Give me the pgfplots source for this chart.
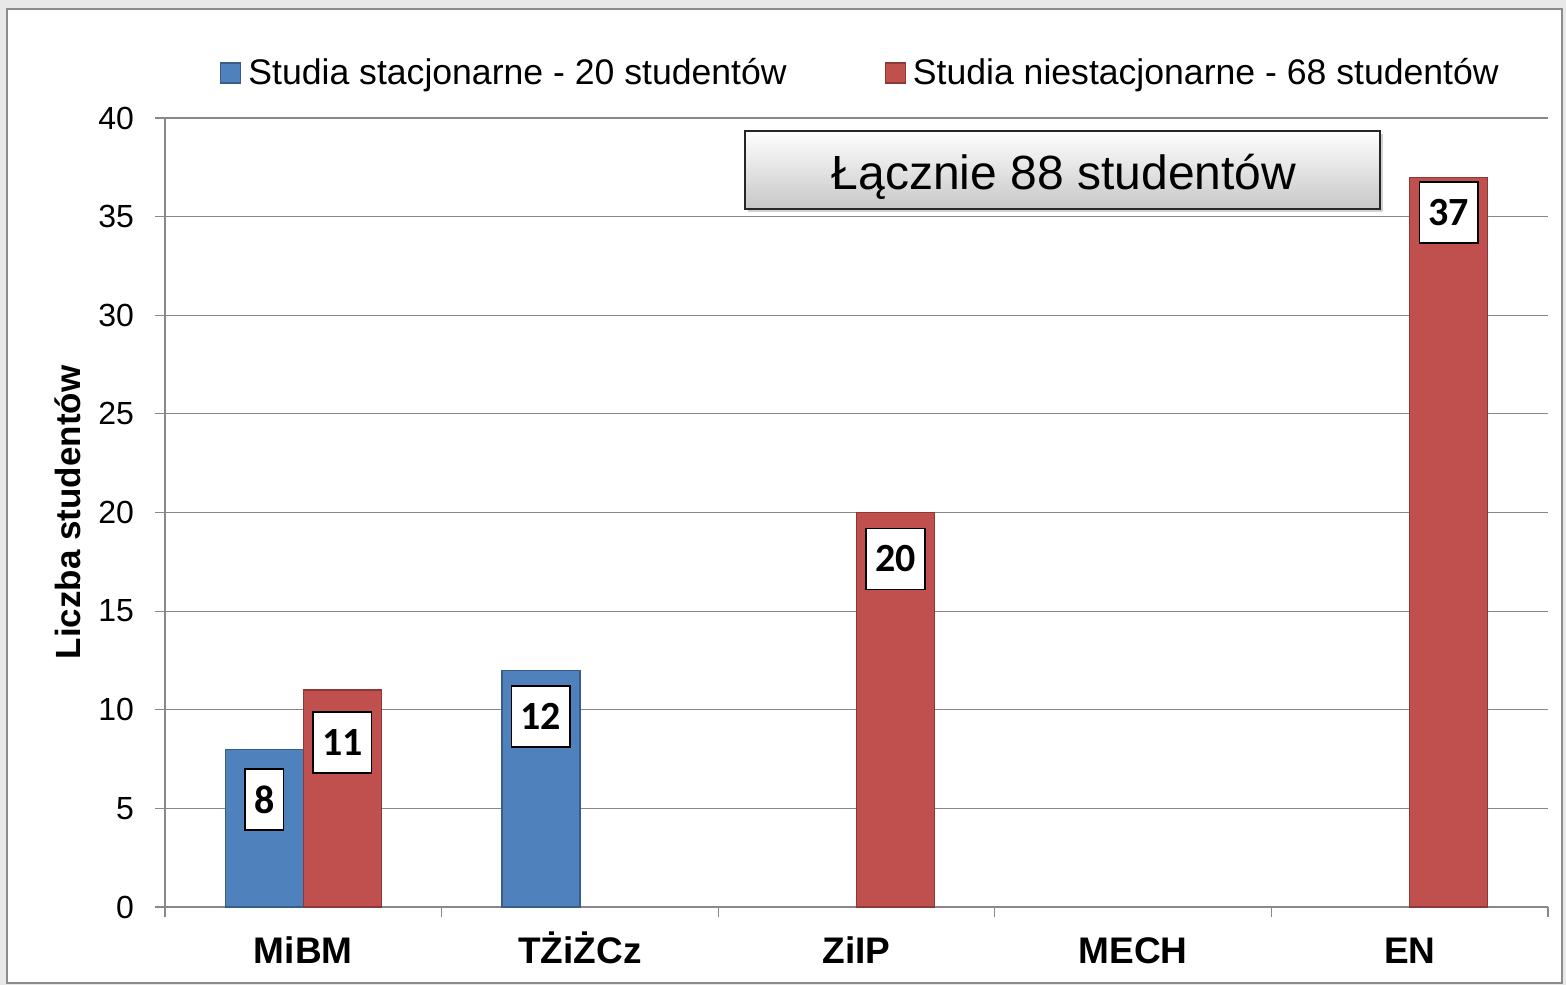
\documentclass[border=0pt]{standalone}
\usepackage{fontspec}
\setmainfont{Liberation Sans}
\newfontfamily\carlito{Carlito}
\usepackage{pgfplots}
\pgfplotsset{compat=1.18}
\usetikzlibrary{shadows}
\definecolor{xblue}{HTML}{4F81BD}
\definecolor{xblueb}{HTML}{385D8A}
\definecolor{xred}{HTML}{C0504D}
\definecolor{xredb}{HTML}{8C3836}
\definecolor{gridc}{HTML}{888888}
\begin{document}
\begin{tikzpicture}
\fill[black!9] (-82.5pt,-39pt) rectangle (700.5pt,453.5pt);
\draw[black!45, line width=0.8pt, fill=white] (-79pt,-38pt) rectangle (698.5pt,449pt);
\begin{axis}[
  scale only axis,
  width=691.5pt, height=394.5pt,
  xmin=-0.5, xmax=4.5, ymin=0, ymax=40,
  clip=false,
  axis x line*=bottom, axis y line*=left,
  axis line style={gridc, line width=0.6pt},
  ymajorgrids, grid style={gridc, line width=0.6pt},
  tick align=outside, major tick length=5pt,
  tick style={gridc, line width=0.6pt},
  ytick={0,5,...,40},
  /pgf/number format/assume math mode=true,
  yticklabel style={font=\fontsize{16}{16}\selectfont, anchor=east, xshift=-7pt},
  xtick={-0.5,0.5,1.5,2.5,3.5,4.5},
  xticklabels={},
  extra x ticks={0,1,2,3,4},
  extra x tick labels={MiBM,TŻiŻCz,ZiIP,MECH,EN},
  extra x tick style={major tick length=0pt, tick style={draw=none},
    xticklabel style={font=\fontsize{18.5}{18.5}\selectfont\bfseries, anchor=base, yshift=-28pt}},
  ylabel={Liczba studentów},
  every axis y label/.style={at={(rel axis cs:0,0.5)}, rotate=90, anchor=center, yshift=48.5pt,
    font=\fontsize{17.5}{17.5}\selectfont\bfseries},
  legend columns=2,
  legend style={draw=none, fill=none, at={(rel axis cs:0.5036,1.057)}, anchor=center,
    font=\fontsize{17.8}{17.8}\selectfont, inner sep=0pt,
    /tikz/every even column/.append style={column sep=47pt}},
  legend image code/.code={\draw[#1] (0pt,-5pt) rectangle (10pt,5pt); \path (11.5pt,0pt);},
  nodes near coords,
  every node near coord/.append style={anchor=north, yshift=-\off pt, fill=white, draw=black,
    line width=0.8pt, font=\carlito\bfseries\fontsize{20}{20}\selectfont,
    inner xsep=4.5pt, inner ysep=0pt, minimum height=30.5pt, text depth=0pt},
  visualization depends on={\thisrow{off}\as\off},
]
\addplot[ybar, bar width=39pt, bar shift=-19.5pt, fill=xblue, draw=xblueb, line width=0.6pt,
  every node near coord/.append style={xshift=-19.5pt}]
 table[x=x,y=y]{
x y off
0 8 9.5
1 12 7.5
};
\addlegendentry{Studia stacjonarne - 20 studentów}
\addplot[ybar, bar width=39pt, bar shift=19.5pt, fill=xred, draw=xredb, line width=0.6pt,
  every node near coord/.append style={xshift=19.5pt}]
 table[x=x,y=y]{
x y off
0 11 10.5
2 20 7.5
4 37 2
};
\addlegendentry{Studia niestacjonarne - 68 studentów}
\end{axis}
\node[draw=black!85, line width=0.6pt, top color=white, bottom color=black!22,
  drop shadow={shadow xshift=1.5pt, shadow yshift=-1.5pt, opacity=0.35},
  minimum width=317.5pt, minimum height=39pt, inner sep=0pt] at (448.75pt,368.5pt) {};
\node[inner sep=0pt, font=\fontsize{24}{24}\selectfont] at (449.5pt,365pt) {Łącznie 88 studentów};
\end{tikzpicture}
\end{document}
